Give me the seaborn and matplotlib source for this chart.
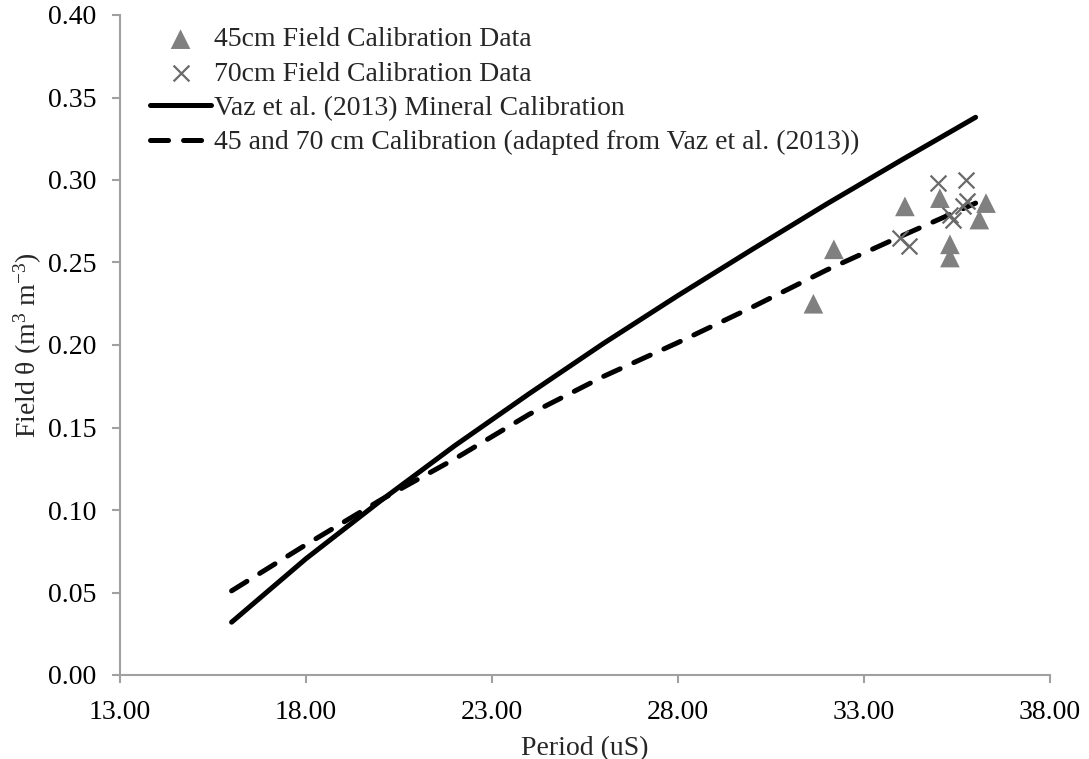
import matplotlib
matplotlib.use("Agg")
import matplotlib.pyplot as plt
import seaborn as sns
import pandas as pd
from matplotlib.ticker import FormatStrFormatter, MultipleLocator

# ---- data ----
period_45 = [31.64, 32.19, 34.10, 35.04, 35.31, 35.31, 36.10, 36.28]
theta_45 = [0.225, 0.258, 0.284, 0.289, 0.261, 0.253, 0.276, 0.286]

period_70 = [33.97, 34.22, 35.00, 35.74, 35.30, 35.40, 35.67, 35.76]
theta_70 = [0.265, 0.260, 0.298, 0.300, 0.279, 0.276, 0.284, 0.287]

curve_period = [16, 18, 20, 22, 24, 26, 28, 30, 32, 34, 36]
vaz_mineral = [0.032, 0.0705, 0.1055, 0.139, 0.1705, 0.201, 0.230, 0.258, 0.2855, 0.312, 0.338]
adapted_cal = [0.051, 0.079, 0.106, 0.131, 0.158, 0.181, 0.2015, 0.223, 0.2455, 0.266, 0.286]

labels = ["45cm Field Calibration Data",
          "70cm Field Calibration Data",
          "Vaz et al. (2013) Mineral Calibration",
          "45 and 70 cm Calibration (adapted from Vaz et al. (2013))"]

x_ticks = [13, 18, 23, 28, 33, 38]

# ---- style ----
sns.set_theme(style="white")
plt.rcParams["font.family"] = ["Liberation Serif", "DejaVu Serif"]
plt.rcParams["mathtext.fontset"] = "custom"
plt.rcParams["mathtext.rm"] = "Liberation Serif"
plt.rcParams["mathtext.it"] = "Liberation Serif:italic"
plt.rcParams["lines.scale_dashes"] = False

FS = 20
fig = plt.figure(figsize=(10.89, 7.59), dpi=100)
ax = fig.add_axes([120 / 1089, 1 - 675 / 759, 930 / 1089, 660 / 759])

curves = pd.DataFrame({"period": curve_period, "vaz": vaz_mineral, "adapted": adapted_cal})

sns.lineplot(data=curves, x="period", y="vaz", ax=ax, color="black", lw=3.6,
             errorbar=None, solid_capstyle="round", solid_joinstyle="round",
             label=labels[2], zorder=2)
sns.lineplot(data=curves, x="period", y="adapted", ax=ax, color="black", lw=3.6,
             errorbar=None, linestyle=(0, (13, 10.8)), dash_capstyle="round",
             label=labels[3], zorder=2)
sns.scatterplot(x=period_45, y=theta_45, ax=ax, marker="^", s=200, color="#808080",
                edgecolor="none", label=labels[0], zorder=3)
sns.scatterplot(x=period_70, y=theta_70, ax=ax, marker="x", s=130, color="#6a6a6a",
                linewidth=1.6, label=labels[1], zorder=4)

ax.set_xlim(13, 38)
ax.set_ylim(0, 0.40)
ax.set_xticks(x_ticks)
ax.yaxis.set_major_locator(MultipleLocator(0.05))
ax.xaxis.set_major_formatter(FormatStrFormatter("%.2f"))
ax.yaxis.set_major_formatter(FormatStrFormatter("%.2f"))

for side in ["top", "right"]:
    ax.spines[side].set_visible(False)
for side in ["left", "bottom"]:
    ax.spines[side].set_color("#a0a0a0")
    ax.spines[side].set_linewidth(1.5)

ax.tick_params(axis="both", which="major", direction="out", length=6, width=1.5,
               color="#a0a0a0", labelsize=FS, labelcolor="black")
ax.tick_params(axis="y", pad=11, left=True)
ax.tick_params(axis="x", pad=12, bottom=True)

ax.set_xlabel("Period (uS)", fontsize=FS, labelpad=8)
ax.set_ylabel(r"Field θ (m$^{3}$ m$^{-3}$)", fontsize=FS, labelpad=3)

handles, labs = ax.get_legend_handles_labels()
order = [labs.index(l) for l in labels]
leg = ax.legend([handles[i] for i in order], [labs[i] for i in order],
                loc="upper left", bbox_to_anchor=(150 / 1089, 1 - 27 / 759),
                bbox_transform=fig.transFigure, frameon=False, fontsize=FS,
                borderpad=0, borderaxespad=0, handlelength=2.2, handletextpad=0.1,
                labelspacing=0.32)

fig.savefig("out.png", dpi=100)
